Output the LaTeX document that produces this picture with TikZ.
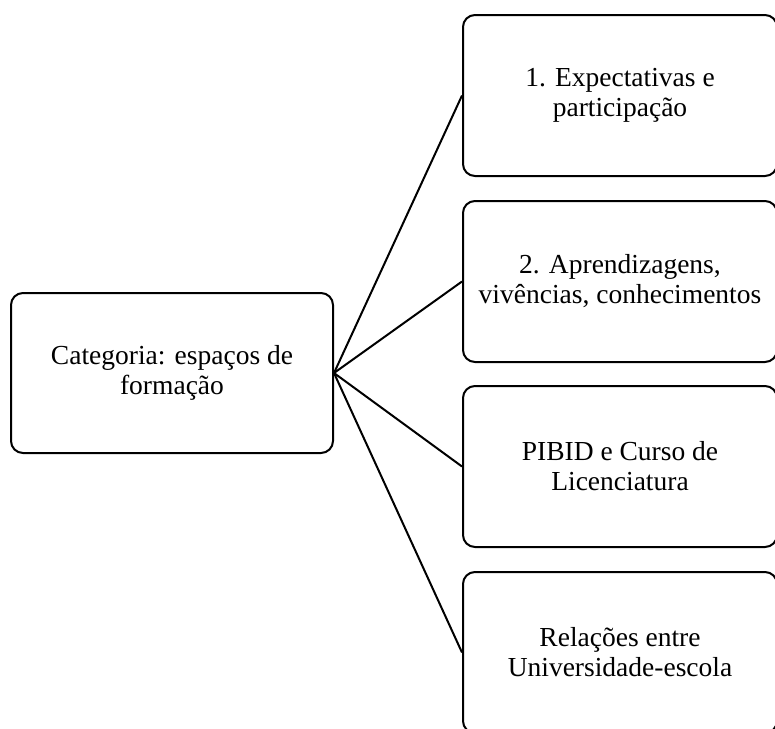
\documentclass[tikz,border=0pt]{standalone}
\usepackage{fontspec}
\setmainfont{Liberation Serif}
\begin{document}
\begin{tikzpicture}[x=1pt, y=-1pt,
        box/.style={draw, line width=2pt, rounded corners=12pt, align=center,
            inner sep=0pt, font=\fontsize{27.5}{30}\selectfont},
        catbox/.style={box, minimum width=322pt, minimum height=160pt},
        subbox/.style={box, minimum width=314pt, minimum height=161pt},
        link/.style={line width=2pt}
    ]
    \useasboundingbox (0,0) rectangle (775,728);

    \node[catbox] (cat) at (172,373) {Categoria: espaços de\\formação};

    \node[subbox] (s1) at (620,95.5) {1. Expectativas e\\participação};
    \node[subbox] (s2) at (620,281.5) {2. Aprendizagens,\\vivências, conhecimentos};
    \node[subbox] (s3) at (620,466.5) {PIBID e Curso de\\Licenciatura};
    \node[subbox] (s4) at (620,652.5) {Relações entre\\Universidade-escola};

    \foreach \s in {s1,s2,s3,s4}
        \draw[link] (cat.east) -- (\s.west);
\end{tikzpicture}
\end{document}
